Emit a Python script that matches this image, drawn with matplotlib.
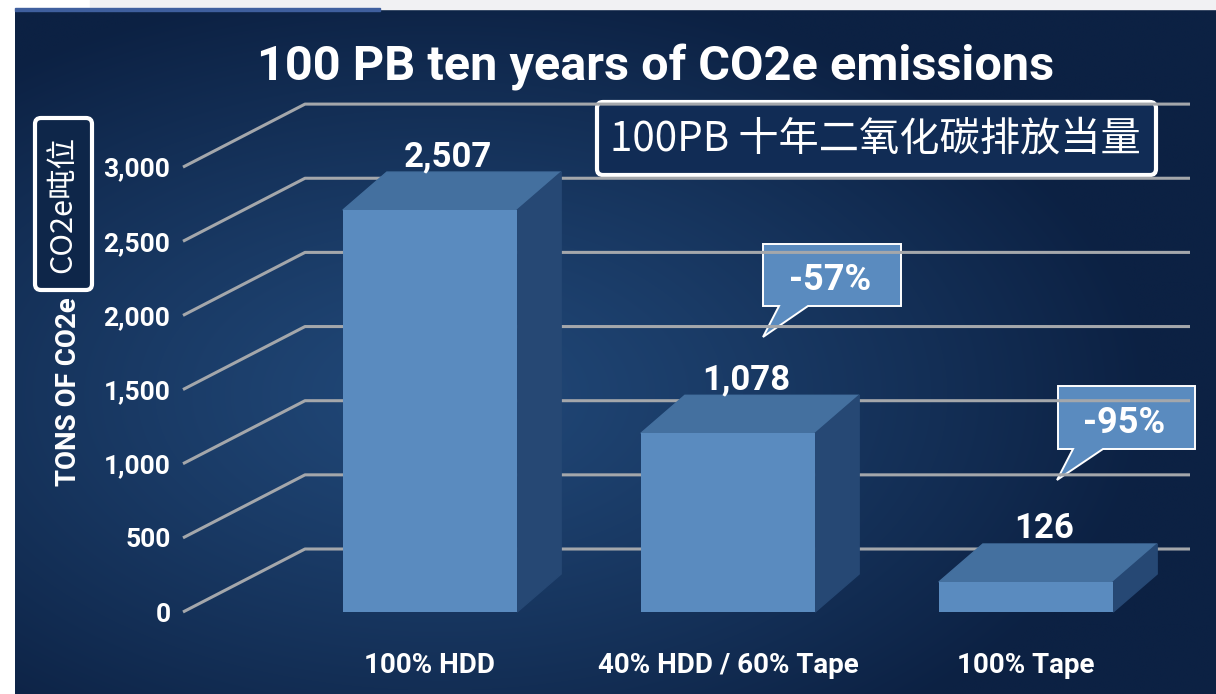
import numpy as np
import matplotlib
matplotlib.use("Agg")
import matplotlib.pyplot as plt
import matplotlib.transforms as mtransforms
from matplotlib.patches import Polygon, FancyBboxPatch, Rectangle

# data
categories = ["100% HDD", "40% HDD / 60% Tape", "100% Tape"]
tons = [2507, 1078, 126]
y_ticks = [0, 500, 1000, 1500, 2000, 2500, 3000]
title = "100 PB ten years of CO2e emissions"
title_cn = "100PB 十年二氧化碳排放当量"
ylabel = "TONS OF CO2e"
ylabel_cn = "CO2e吨位"

plt.rcParams['font.family'] = ['Roboto', 'DejaVu Sans']
cjk = ['Noto Sans CJK SC', 'DejaVu Sans']

front_c = '#5a8bbf'
top_c = '#44709f'
side_c = '#264874'
grid_c = '#a4a7ab'

W, H = 1216, 694
fig = plt.figure(figsize=(W / 100, H / 100), dpi=100)
fig.patch.set_facecolor('white')

# background (pixel coordinates)
bg = fig.add_axes([0, 0, 1, 1])
bg.set_xlim(0, W)
bg.set_ylim(H, 0)
bg.axis('off')
yy, xx = np.mgrid[0:H, 0:W]
r = np.sqrt(((xx - 430) / 720.0) ** 2 + ((yy - 390) / 420.0) ** 2)
t = np.clip(r, 0, 1)[..., None] ** 1.2
c0 = np.array([0x21, 0x48, 0x78]) / 255
c1 = np.array([0x0c, 0x21, 0x43]) / 255
img = c0 * (1 - t) + c1 * t
bg.imshow(img, extent=(15, W, H, 10), aspect='auto', zorder=0)
bg.add_patch(Rectangle((90, 0), W - 90, 9, color='#f1f1f3', zorder=1))
bg.add_patch(Rectangle((15, 8), 365, 3, color='#3f5f9e', zorder=1))

# grid (back wall), its own scale
sg = 0.1483  # px per unit
g_top = 3500
gax = fig.add_axes([183 / W, (H - 612) / H, (1190 - 183) / W, g_top * sg / H])
gax.set_ylim(0, g_top)
gax.set_xlim(0, 1)
gax.patch.set_alpha(0)
for s in gax.spines.values():
    s.set_visible(False)
gax.set_xticks([])
gax.set_yticks(y_ticks)
gax.set_yticklabels([f"{v:,}" for v in y_ticks])
gax.tick_params(axis='y', length=0, pad=9, labelsize=19, labelcolor='white')
for lb in gax.get_yticklabels():
    lb.set_fontweight('bold')
blend = mtransforms.blended_transform_factory(gax.transAxes, gax.transData)
depth_g = 63 / sg
for v in y_ticks:
    gax.plot([0, 122 / 1007, 1], [v, v + depth_g, v + depth_g], color=grid_c,
             lw=2.2, transform=blend, solid_capstyle='butt', clip_on=False)

# bars, front scale
sb = 0.1562
bax = fig.add_axes([281 / W, (H - 617.3) / H, 894 / W, 3500 * sb / H])
bax.set_xlim(-0.5, 2.5)
bax.set_ylim(-100, 3400)
bax.patch.set_alpha(0)
for s in bax.spines.values():
    s.set_visible(False)
bax.set_yticks([])
x = np.arange(len(categories))
w = 0.585
floor = -66
ddx = 44 / 298
ddy = 38 / sb
vals = np.array(tons)
bax.bar(x, vals - floor, bottom=floor, width=w, color=front_c, zorder=3)
for xi, v in zip(x, vals):
    top = [(xi - w / 2, v), (xi + w / 2, v), (xi + w / 2 + ddx, v + ddy), (xi - w / 2 + ddx, v + ddy)]
    side = [(xi + w / 2, floor), (xi + w / 2, v), (xi + w / 2 + ddx, v + ddy), (xi + w / 2 + ddx, floor + ddy)]
    bax.add_patch(Polygon(top, closed=True, color=top_c, zorder=2))
    bax.add_patch(Polygon(side, closed=True, color=side_c, zorder=2))
    bax.annotate(f"{v:,}", (xi + 0.06, v + ddy), xytext=(0, 4), textcoords='offset points',
                 ha='center', va='baseline', color='white', fontsize=25, fontweight='bold')
bax.set_xticks(x)
bax.set_xticklabels(categories)
bax.tick_params(axis='x', length=0, pad=25, labelsize=20, labelcolor='white')
for lb in bax.get_xticklabels():
    lb.set_fontweight('bold')

# callouts
callouts = [
    [(763, 244), (901, 244), (901, 306), (808, 306), (763, 337), (779, 306), (763, 306)],
    [(1058, 386), (1195, 386), (1195, 449), (1103, 449), (1057, 480), (1073, 449), (1058, 449)],
]
for pts, v in zip(callouts, vals[1:]):
    bg.add_patch(Polygon(pts, closed=True, facecolor=front_c, edgecolor='white', lw=1.4, zorder=5))
    cx = (pts[0][0] + pts[1][0]) / 2
    cy = (pts[0][1] + pts[2][1]) / 2
    pct = round((v / vals[0] - 1) * 100)
    bg.text(cx - 2, cy + 1, f"{pct}%", ha='center', va='center_baseline', color='white',
            fontsize=26, fontweight='bold', zorder=6)

# titles
fig.text(656 / W, 1 - 62 / H, title, ha='center', va='center_baseline', color='white',
         fontsize=35, fontweight='bold')
fig.text(68 / W, 1 - 392 / H, ylabel, ha='center', va='center', rotation=90,
         color='white', fontsize=20, fontweight='bold')

bg.add_patch(FancyBboxPatch((599, 104), 555, 69, boxstyle='round,pad=2,rounding_size=6',
                            facecolor='#112c55', edgecolor='white', lw=3, zorder=5))
bg.text(875, 139, title_cn, ha='center', va='center', color='white', fontsize=29,
        family=cjk, zorder=6)
bg.add_patch(FancyBboxPatch((37, 120), 53, 168, boxstyle='round,pad=2,rounding_size=6',
                            facecolor='#0e2649', edgecolor='white', lw=3, zorder=5))
bg.text(63, 204, ylabel_cn, ha='center', va='center', rotation=90, color='white',
        fontsize=22, family=cjk, zorder=6)

fig.savefig('out.png', dpi=100)
